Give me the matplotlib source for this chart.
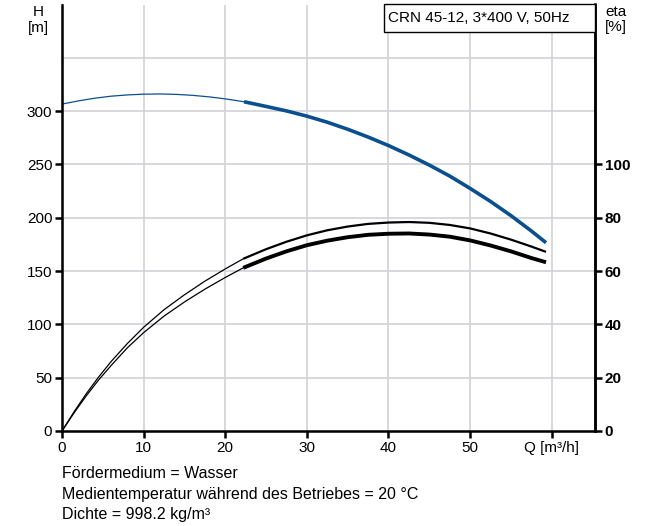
import matplotlib
matplotlib.use("Agg")
import matplotlib.pyplot as plt
from matplotlib.patches import Rectangle

plt.rcParams['font.family'] = ['Liberation Sans', 'DejaVu Sans']

# pump curve H(Q), thin part (outside operating range) and thick part
q_h_thin = [0, 2, 4, 6, 8, 10, 12, 14, 16, 18, 20, 22.3]
h_thin = [306.6, 309.6, 312.1, 314, 315.2, 315.9, 316.1, 315.7, 314.8, 313.4, 311.5, 308.8]
q_h_thick = [22.3, 25, 27.5, 30, 32.5, 35, 37.5, 40, 42.5, 45, 47.5, 50, 52.5, 55, 57.5, 59.3]
h_thick = [308.8, 304.4, 300.2, 295.3, 289.6, 283, 275.7, 267.7, 258.9, 249.4, 239.1,
           227.5, 215.3, 202, 187.6, 176.6]

# efficiency curves (eta in %)
q_eta1_thin = [0, 1.5, 3, 4.5, 6, 8, 10, 12.5, 15, 17.5, 20, 22.2]
eta1_thin = [0, 7.3, 14.1, 20.3, 26, 32.8, 38.9, 45.5, 51.1, 56.2, 60.8, 64.6]
q_eta1_thick = [22.2, 25, 27.5, 30, 32.5, 35, 37.5, 40, 42.5, 45, 47.5, 50, 52.5, 55, 57.5, 59.3]
eta1_thick = [64.6, 68.2, 71, 73.4, 75.3, 76.7, 77.7, 78.2, 78.4, 78.1, 77.3, 76, 74.1,
              71.8, 69.2, 67.2]

q_eta2_thin = [0, 1.5, 3, 4.5, 6, 8, 10, 12.5, 15, 17.5, 20, 22.2]
eta2_thin = [0, 6.9, 13.3, 19.2, 24.5, 31.2, 36.9, 43.1, 48.4, 53.2, 57.6, 61.2]
q_eta2_thick = [22.2, 25, 27.5, 30, 32.5, 35, 37.5, 40, 42.5, 45, 47.5, 50, 52.5, 55, 57.5, 59.3]
eta2_thick = [61.2, 64.7, 67.4, 69.7, 71.4, 72.7, 73.6, 74, 74.1, 73.7, 72.9, 71.5, 69.6,
              67.4, 64.9, 63.3]

h_ticks = [0, 50, 100, 150, 200, 250, 300]
eta_ticks = [0, 20, 40, 60, 80, 100]
q_ticks = [0, 10, 20, 30, 40, 50, 60]
q_labels = ['0', '10', '20', '30', '40', '50', 'Q [m³/h]']

blue = '#0b4f8f'
grid_c = '#d3d6d9'
fs = 11

fig = plt.figure(figsize=(6.46, 5.26), dpi=100)
ax = fig.add_axes([62/646, 1-431/526, 533/646, (431-4.5)/526])
ax.set_xlim(0, 65.3)
ax.set_ylim(0, 400)

for q in q_ticks[1:]:
    ax.axvline(q, color=grid_c, lw=1.3, zorder=0)
for h in [50, 100, 150, 200, 250, 300, 350]:
    ax.axhline(h, color=grid_c, lw=1.3, zorder=0)

ax.plot(q_h_thin, h_thin, color=blue, lw=0.9, solid_capstyle='butt')
ax.plot(q_h_thick, h_thick, color=blue, lw=2.6, solid_capstyle='butt', solid_joinstyle='round')

ax.set_xticks(q_ticks)
ax.set_xticklabels(q_labels)
ax.set_yticks(h_ticks)
ax.tick_params(axis='both', direction='out', length=5, width=1.8, labelsize=fs, pad=2)
ax.spines['top'].set_visible(False)
for s in ['left', 'bottom', 'right']:
    ax.spines[s].set_linewidth(1.8)

ax2 = ax.twinx()
ax2.set_ylim(0, 160)
ax2.set_yticks(eta_ticks)
ax2.tick_params(axis='y', direction='out', length=5, width=1.8, labelsize=fs, pad=2)
for lab in ax2.get_yticklabels():
    lab.set_fontweight('bold')
ax2.spines['top'].set_visible(False)
ax2.spines['right'].set_linewidth(1.8)

ax2.plot(q_eta1_thin, eta1_thin, color='black', lw=0.9, solid_capstyle='butt')
ax2.plot(q_eta1_thick, eta1_thick, color='black', lw=1.6, solid_capstyle='butt', solid_joinstyle='round')
ax2.plot(q_eta2_thin, eta2_thin, color='black', lw=0.9, solid_capstyle='butt')
ax2.plot(q_eta2_thick, eta2_thick, color='black', lw=2.8, solid_capstyle='butt', solid_joinstyle='round')

box_l = (384-62)/533
box_b = (431-32)/426.5
ax2.add_patch(Rectangle((box_l, box_b), 1-box_l, 1-box_b, transform=ax2.transAxes,
                        facecolor='white', edgecolor='black', lw=1.0, zorder=10, clip_on=False))
ax2.text(box_l+0.008, (1+box_b)/2, 'CRN 45-12, 3*400 V, 50Hz', transform=ax2.transAxes,
         fontsize=fs, va='center', ha='left', zorder=11)

fig.text(38/646, 1-12/526, 'H', fontsize=fs, ha='center', va='center')
fig.text(38/646, 1-28/526, '[m]', fontsize=fs, ha='center', va='center')
fig.text(605/646, 1-12/526, 'eta', fontsize=fs, ha='left', va='center')
fig.text(605/646, 1-27/526, '[%]', fontsize=fs, ha='left', va='center')

fig.text(62/646, 1-474/526, 'Fördermedium = Wasser', fontsize=11.5, ha='left', va='center')
fig.text(62/646, 1-494/526, 'Medientemperatur während des Betriebes = 20 °C', fontsize=11.5, ha='left', va='center')
fig.text(62/646, 1-514/526, 'Dichte = 998.2 kg/m³', fontsize=11.5, ha='left', va='center')

fig.savefig('out.png', dpi=100)
